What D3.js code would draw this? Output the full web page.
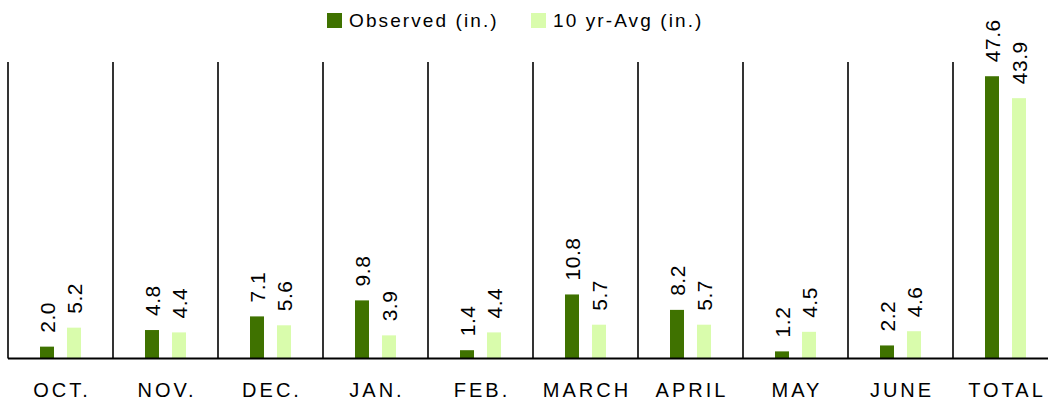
<!DOCTYPE html>
<html lang="en">
<head>
<meta charset="UTF-8">
<title>Precipitation</title>
<script src="https://cdnjs.cloudflare.com/ajax/libs/d3/7.8.5/d3.min.js"></script>
<style>
    body { margin: 0; background: #fff; }
    svg { display: block; font-family: "Liberation Sans", Arial, sans-serif; }
</style>
</head>
<body>
<svg id="chart" width="1048" height="403"></svg>
<script>
    // chart data
    const months = ["OCT.", "NOV.", "DEC.", "JAN.", "FEB.", "MARCH", "APRIL", "MAY", "JUNE", "TOTAL"];
    const observed = [2.0, 4.8, 7.1, 9.8, 1.4, 10.8, 8.2, 1.2, 2.2, 47.6];
    const tenYrAvg = [5.2, 4.4, 5.6, 3.9, 4.4, 5.7, 5.7, 4.5, 4.6, 43.9];
    const seriesNames = ["Observed (in.)", "10 yr-Avg (in.)"];
    const colors = ["#3f7200", "#d9fcac"];

    const svg = d3.select("#chart");
    const baseY = 358.5, topY = 62;

    const x = d3.scaleBand().domain(months).range([8, 1058]);
    const y = d3.scaleLinear().domain([0, 50]).range([baseY, topY]);
    const barW = 14;
    const offset = [-13.5, 13.5];

    // vertical separators
    svg.append("g").selectAll("line")
        .data(months)
        .enter().append("line")
        .attr("x1", d => x(d)).attr("x2", d => x(d))
        .attr("y1", topY).attr("y2", baseY)
        .attr("stroke", "#000").attr("stroke-width", 1.6);

    const series = [observed, tenYrAvg];
    series.forEach((vals, s) => {
        const g = svg.append("g");
        g.selectAll("rect")
            .data(vals)
            .enter().append("rect")
            .attr("x", (d, i) => x(months[i]) + x.bandwidth() / 2 + offset[s] - barW / 2)
            .attr("y", d => y(d))
            .attr("width", barW)
            .attr("height", d => baseY - y(d))
            .attr("fill", colors[s]);

        g.selectAll("text")
            .data(vals)
            .enter().append("text")
            .attr("transform", (d, i) => {
                const cx = x(months[i]) + x.bandwidth() / 2 + offset[s] + 8;
                return `translate(${cx},${y(d) - 14}) rotate(-90)`;
            })
            .attr("font-size", 21)
            .attr("letter-spacing", 0.5)
            .attr("fill", "#000")
            .text(d => d.toFixed(1));
    });

    // baseline
    svg.append("line")
        .attr("x1", 8).attr("x2", 1048)
        .attr("y1", baseY).attr("y2", baseY)
        .attr("stroke", "#000").attr("stroke-width", 2);

    // category labels
    svg.append("g").selectAll("text")
        .data(months)
        .enter().append("text")
        .attr("x", d => x(d) + x.bandwidth() / 2 + 1.5)
        .attr("y", 397)
        .attr("text-anchor", "middle")
        .attr("font-size", 20)
        .attr("letter-spacing", 3)
        .text(d => d);

    // legend
    const legendX = [327, 531];
    seriesNames.forEach((name, s) => {
        svg.append("rect")
            .attr("x", legendX[s]).attr("y", 13)
            .attr("width", 15).attr("height", 15)
            .attr("fill", colors[s]);
        svg.append("text")
            .attr("x", legendX[s] + 22).attr("y", 27)
            .attr("font-size", 19)
            .attr("letter-spacing", 2.1)
            .text(name);
    });
</script>
</body>
</html>
